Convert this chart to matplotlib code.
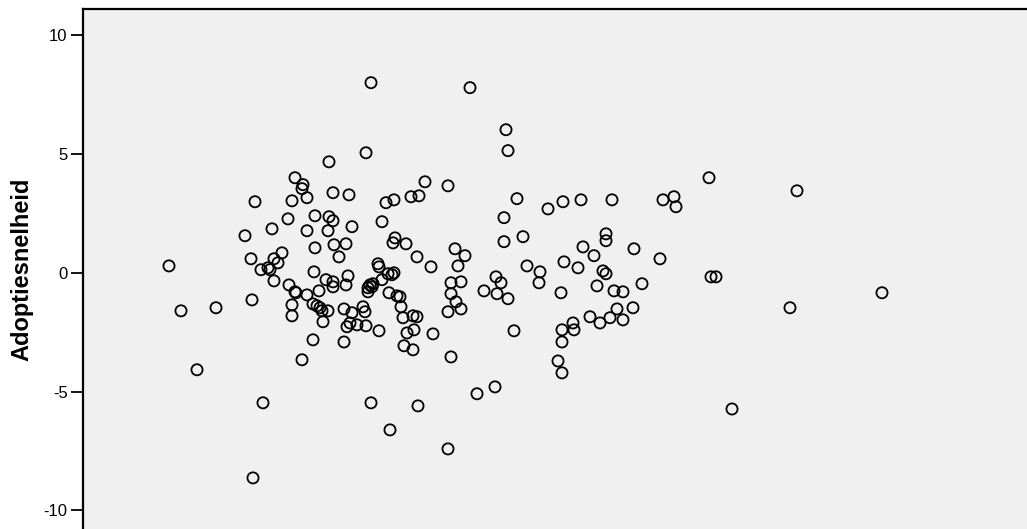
import matplotlib
matplotlib.use('Agg')
import matplotlib.pyplot as plt

plt.rcParams['font.family'] = ['Liberation Sans', 'DejaVu Sans']

# x has no labelled axis in the original; values are in arbitrary units
x_vals = [
    8.6, 9.8, 11.4, 13.3, 16.2, 16.8, 16.9, 17.2, 17.0, 18.0,
    17.8, 18.5, 18.7, 18.9, 19.1, 19.1, 19.5, 19.9, 20.5, 20.6,
    20.9, 20.9, 20.9, 21.2, 21.2, 21.3, 21.9, 22.0, 21.9, 22.4,
    22.4, 22.4, 23.0, 23.0, 23.2, 23.1, 23.2, 23.4, 23.6, 23.7,
    23.9, 24.0, 24.3, 24.5, 24.5, 24.6, 24.6, 25.0, 25.0, 25.0,
    25.0, 25.1, 25.6, 26.1, 26.1, 26.3, 26.3, 26.5, 26.4, 26.6,
    26.7, 26.9, 26.9, 27.4, 28.0, 28.2, 28.3, 28.3, 28.5, 28.7,
    28.9, 29.0, 28.5, 28.8, 28.8, 29.5, 29.6, 29.6, 29.9, 29.9,
    30.3, 30.5, 30.9, 31.1, 30.6, 30.7, 31.1, 31.2, 31.0, 31.4,
    31.7, 31.8, 32.0, 32.3, 32.4, 32.8, 33.0, 33.4, 33.1, 32.1,
    33.0, 33.4, 33.5, 33.6, 34.2, 34.8, 35.0, 36.5, 36.5, 36.5,
    36.8, 36.8, 36.8, 37.2, 37.3, 37.5, 37.8, 37.8, 38.2, 38.7,
    39.4, 40.1, 41.2, 41.3, 41.8, 41.4, 42.1, 42.1, 42.3, 42.5,
    42.5, 43.1, 43.4, 44.0, 44.4, 45.6, 45.7, 46.5, 47.5, 47.8,
    47.9, 47.9, 47.9, 48.0, 48.1, 49.0, 49.1, 49.5, 49.8, 50.0,
    50.7, 51.1, 51.4, 51.7, 52.0, 52.3, 52.3, 52.3, 52.7, 52.9,
    53.1, 53.4, 54.0, 54.0, 55.0, 55.1, 55.9, 57.7, 58.0, 59.1,
    59.3, 62.6, 62.8, 63.3, 64.9, 70.7, 71.4, 79.9,
]

adoptiesnelheid = [
    0.29, -1.60, -4.08, -1.47, 1.56, 0.59, -1.14, 2.99, -8.63, -5.47,
    0.13, 0.21, 0.13, 1.85, 0.59, -0.34, 0.42, 0.84, 2.27, -0.51,
    3.03, -1.35, -1.81, 4.00, -0.80, -0.84, 3.54, 3.71, -3.66, 3.16,
    1.77, -0.93, -1.31, -2.82, 1.05, 0.04, 2.40, -1.39, -0.76, -1.47,
    -1.60, -2.06, -0.29, 1.77, -1.60, 4.67, 2.36, 3.37, 2.19, -0.38,
    -0.59, 1.18, 0.67, -1.52, -2.91, 1.22, -0.51, -0.13, -2.27, 3.28,
    -2.11, 1.94, -1.68, -2.19, -1.43, -1.64, 5.05, -2.23, -0.63, -0.51,
    -0.59, -0.46, -0.80, 8.00, -5.47, 0.38, 0.25, -2.44, 2.15, -0.29,
    2.95, -0.04, -0.08, 0.00, -0.84, -6.61, 3.07, 1.47, 1.26, -0.97,
    -1.01, -1.43, -1.89, 1.22, -2.53, 3.20, -1.81, -1.85, -2.40, -3.07,
    -3.24, 0.67, -5.60, 3.24, 3.83, 0.25, -2.57, 3.66, -7.41, -1.64,
    -0.42, -0.88, -3.54, 1.01, -1.22, 0.29, -0.38, -1.52, 0.72, 7.79,
    -5.09, -0.76, -4.80, -0.17, -0.42, -0.88, 2.32, 1.31, 6.02, 5.14,
    -1.09, -2.44, 3.12, 1.52, 0.29, -0.42, 0.04, 2.69, -3.71, -0.84,
    -2.40, -2.91, -4.21, 2.99, 0.46, -2.11, -2.40, 0.21, 3.07, 1.09,
    -1.85, 0.72, -0.55, -2.11, 0.08, -0.04, 1.64, 1.35, -1.89, 3.07,
    -0.76, -1.52, -0.80, -1.98, -1.47, 1.01, -0.46, 0.59, 3.07, 3.20,
    2.78, 4.00, -0.17, -0.17, -5.73, -1.47, 3.45, -0.84,
]

y_ticks = [-10, -5, 0, 5, 10]

fig = plt.figure(figsize=(10.27, 5.29), dpi=100)
ax = fig.add_axes([83 / 1027, 0.0, 944 / 1027, 520 / 529])
ax.set_facecolor('#F0F0F0')

ax.scatter(x_vals, adoptiesnelheid, s=64, facecolors='none',
           edgecolors='black', linewidths=1.3, zorder=3)

ax.set_xlim(0, 94.4)
ax.set_ylim(-10.78, 11.1)
ax.set_yticks(y_ticks)
ax.set_yticklabels([str(t) for t in y_ticks])
ax.set_xticks([])

for side in ['right', 'bottom']:
    ax.spines[side].set_visible(False)
for side in ['left', 'top']:
    ax.spines[side].set_linewidth(1.6)
    ax.spines[side].set_color('black')

ax.tick_params(axis='y', direction='out', length=9, width=1.3,
               labelsize=12, pad=2)

ax.set_ylabel('Adoptiesnelheid', fontsize=17, fontweight='bold')
ax.yaxis.set_label_coords(-0.053, 0.5)

fig.savefig('out.png', dpi=100)
